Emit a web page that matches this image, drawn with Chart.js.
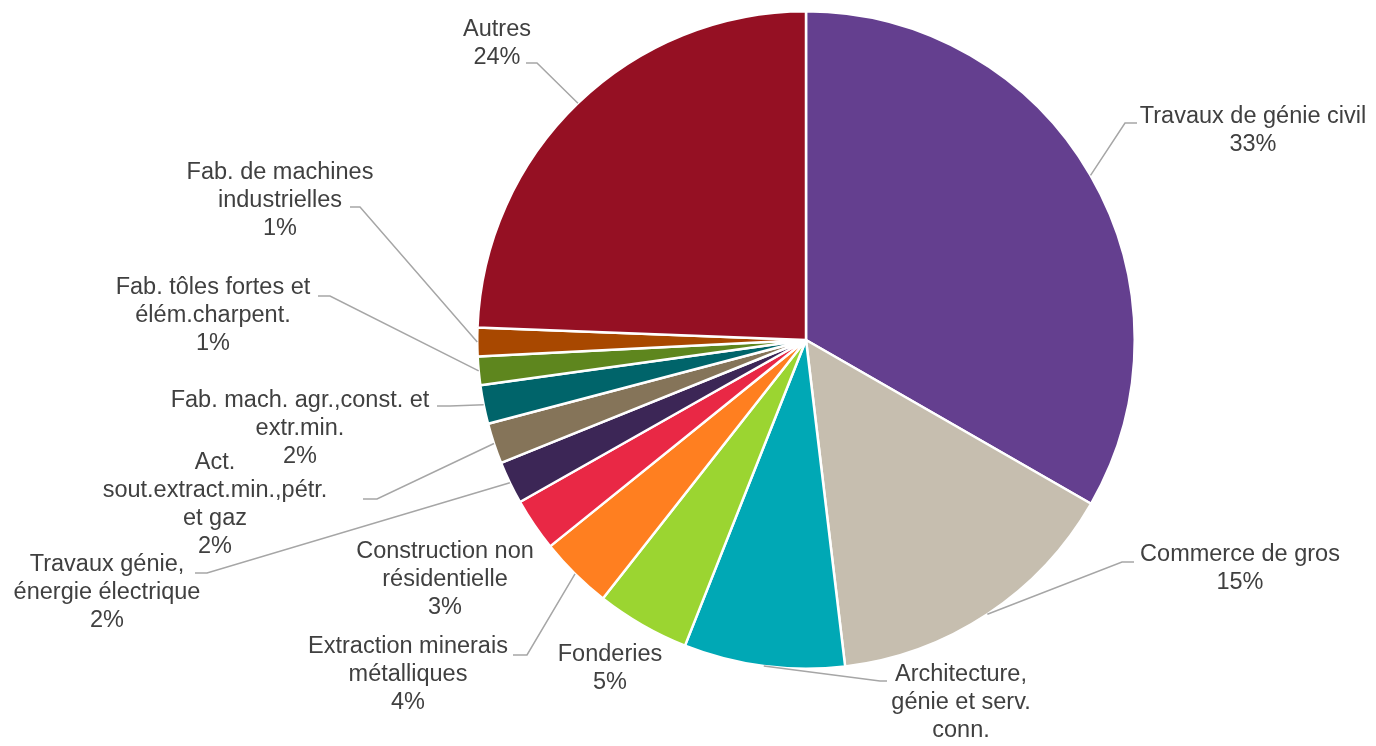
<!DOCTYPE html>
<html>
<head>
<meta charset="utf-8">
<script src="https://cdn.jsdelivr.net/npm/chart.js@4"></script>
<style>
  html, body { margin: 0; padding: 0; background: #fff; }
  #wrap { width: 1376px; height: 746px; position: relative; }
</style>
</head>
<body>
<div id="wrap"><canvas id="pie"></canvas></div>
<script>
// Slice names (already split into the lines shown on the chart)
const categories = [
  ['Travaux de génie civil'],
  ['Commerce de gros'],
  ['Architecture,', 'génie et serv.', 'conn.'],
  ['Fonderies'],
  ['Extraction minerais', 'métalliques'],
  ['Construction non', 'résidentielle'],
  ['Travaux génie,', 'énergie électrique'],
  ['Act.', 'sout.extract.min.,pétr.', 'et gaz'],
  ['Fab. mach. agr.,const. et', 'extr.min.'],
  ['Fab. tôles fortes et', 'élém.charpent.'],
  ['Fab. de machines', 'industrielles'],
  ['Autres']
];

// Share of each sector (%)
const shares = [33.3, 14.8, 7.9, 4.6, 3.6, 2.6, 2.1, 2.0, 1.9, 1.4, 1.4, 24.4];

const sliceColors = [
  '#643F8F', '#C6BEAF', '#00A8B5', '#9BD531', '#FF7F20', '#E92845',
  '#3C2656', '#857459', '#00646A', '#5E861E', '#A84800', '#951023'
];

// Label layout: centre x of text block, y of first line
const labelPos = [
  [1253, 117], [1240, 555], [961, 675], [610, 655], [408, 647], [445, 552],
  [107, 565], [215, 463], [300, 401], [213, 288], [280, 173], [497, 30]
];

// Leader line stub near the text: [xStart, y, xElbow] (null = no leader)
const leaders = [
  [1137, 123, 1125], [1134, 562, 1122], [887, 681, 880], null, [513, 655, 527], null,
  [195, 573, 207], [363, 499, 377], [437, 406, 450], [318, 296, 330], [350, 207, 360], [526, 63, 537]
];

const total = shares.reduce((a, b) => a + b, 0);

const labelPlugin = {
  id: 'sliceLabels',
  afterDraw(chart) {
    const ctx = chart.ctx;
    const meta = chart.getDatasetMeta(0);
    ctx.save();
    // leader lines
    ctx.strokeStyle = '#A6A6A6';
    ctx.lineWidth = 1.5;
    meta.data.forEach((arc, i) => {
      const ld = leaders[i];
      if (!ld) return;
      const mid = (arc.startAngle + arc.endAngle) / 2;
      const px = arc.x + Math.cos(mid) * arc.outerRadius;
      const py = arc.y + Math.sin(mid) * arc.outerRadius;
      ctx.beginPath();
      ctx.moveTo(ld[0], ld[1]);
      ctx.lineTo(ld[2], ld[1]);
      ctx.lineTo(px, py);
      ctx.stroke();
    });
    // texts
    ctx.fillStyle = '#404040';
    ctx.font = '23.5px "Liberation Sans", Arial, sans-serif';
    ctx.textAlign = 'center';
    ctx.textBaseline = 'middle';
    const lineH = 28;
    categories.forEach((lines, i) => {
      const pct = Math.round(shares[i] / total * 100) + '%';
      const all = lines.concat([pct]);
      all.forEach((t, k) => {
        ctx.fillText(t, labelPos[i][0], labelPos[i][1] + k * lineH);
      });
    });
    ctx.restore();
  }
};

new Chart(document.getElementById('pie'), {
  type: 'pie',
  data: {
    labels: categories,
    datasets: [{
      data: shares,
      backgroundColor: sliceColors,
      borderColor: '#FFFFFF',
      borderWidth: 2.5
    }]
  },
  options: {
    responsive: true,
    maintainAspectRatio: false,
    animation: false,
    layout: { padding: { top: 10, bottom: 76, left: 236, right: 0 } },
    plugins: {
      legend: { display: false },
      tooltip: { enabled: false }
    }
  },
  plugins: [labelPlugin]
});
</script>
</body>
</html>
